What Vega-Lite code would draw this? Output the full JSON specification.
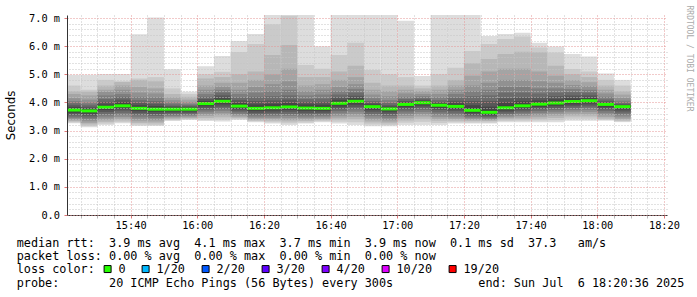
{
"$schema": "https://vega.github.io/schema/vega-lite/v6.json",
"width": 600, "height": 200,
"autosize": {"type": "none"},
"padding": {"left": 67, "top": 15, "right": 30, "bottom": 82},
"background": "#ffffff",
"config": {"view": {"stroke": null}, "axis": {"labelOverlap": false, "labelFlush": false}},
"resolve": {"axis": {"y": "independent"}},
"title": {
 "text": ["median rtt:\u00a0\u00a03.9 ms avg\u00a0\u00a04.1 ms max\u00a0\u00a03.7 ms min\u00a0\u00a03.9 ms now\u00a0\u00a00.1 ms sd\u00a0\u00a037.3\u00a0\u00a0\u00a0am/s",
          "packet loss: 0.00 % avg\u00a0\u00a00.00 % max\u00a0\u00a00.00 % min\u00a0\u00a00.00 % now"],
 "subtitle": "probe:\u00a0\u00a0\u00a0\u00a0\u00a0\u00a0\u00a020 ICMP Echo Pings (56 Bytes) every 300s\u00a0\u00a0\u00a0\u00a0\u00a0\u00a0\u00a0\u00a0\u00a0\u00a0\u00a0\u00a0end: Sun Jul\u00a0\u00a06 18:20:36 2025",
 "orient": "bottom", "anchor": "start", "frame": "group", "dx": -50.3, "offset": -38.3,
 "font": "DejaVu Sans Mono", "fontSize": 11.8, "fontWeight": "normal", "color": "#000000", "lineHeight": 13.7,
 "subtitleFont": "DejaVu Sans Mono", "subtitleFontSize": 11.8, "subtitleColor": "#000000", "subtitlePadding": 15
},
"data": {"values": [
{"t":"2025-07-06T15:20","e":"2025-07-06T15:25","m":3.73,"loss":"0","h1":4.98,"h2":4.60,"h3":4.40,"h4":4.30,"h5":4.15,"h6":4.05,"h7":3.97,"h8":3.90,"h9":3.83,"h10":3.77,"l1":3.26,"l2":3.29,"l3":3.33,"l4":3.36,"l5":3.40,"l6":3.45,"l7":3.50,"l8":3.57,"l9":3.63,"l10":3.69},
{"t":"2025-07-06T15:25","e":"2025-07-06T15:30","m":3.70,"loss":"0","h1":4.98,"h2":4.45,"h3":4.38,"h4":4.25,"h5":4.10,"h6":4.00,"h7":3.92,"h8":3.85,"h9":3.79,"h10":3.74,"l1":3.12,"l2":3.16,"l3":3.22,"l4":3.27,"l5":3.33,"l6":3.40,"l7":3.46,"l8":3.53,"l9":3.60,"l10":3.66},
{"t":"2025-07-06T15:30","e":"2025-07-06T15:35","m":3.83,"loss":"0","h1":5.01,"h2":4.80,"h3":4.60,"h4":4.45,"h5":4.38,"h6":4.25,"h7":4.12,"h8":4.02,"h9":3.93,"h10":3.87,"l1":3.20,"l2":3.25,"l3":3.31,"l4":3.37,"l5":3.43,"l6":3.50,"l7":3.58,"l8":3.66,"l9":3.73,"l10":3.79},
{"t":"2025-07-06T15:35","e":"2025-07-06T15:40","m":3.88,"loss":"0","h1":5.01,"h2":4.75,"h3":4.73,"h4":4.60,"h5":4.45,"h6":4.30,"h7":4.20,"h8":4.10,"h9":4.00,"h10":3.93,"l1":3.26,"l2":3.30,"l3":3.36,"l4":3.42,"l5":3.48,"l6":3.55,"l7":3.63,"l8":3.71,"l9":3.78,"l10":3.84},
{"t":"2025-07-06T15:40","e":"2025-07-06T15:45","m":3.79,"loss":"0","h1":6.42,"h2":4.85,"h3":4.80,"h4":4.55,"h5":4.35,"h6":4.20,"h7":4.08,"h8":3.98,"h9":3.90,"h10":3.84,"l1":3.16,"l2":3.21,"l3":3.27,"l4":3.33,"l5":3.40,"l6":3.47,"l7":3.55,"l8":3.62,"l9":3.69,"l10":3.75},
{"t":"2025-07-06T15:45","e":"2025-07-06T15:50","m":3.76,"loss":"0","h1":7.02,"h2":4.90,"h3":4.75,"h4":4.50,"h5":4.32,"h6":4.18,"h7":4.05,"h8":3.95,"h9":3.87,"h10":3.81,"l1":3.16,"l2":3.20,"l3":3.26,"l4":3.32,"l5":3.38,"l6":3.45,"l7":3.52,"l8":3.59,"l9":3.66,"l10":3.72},
{"t":"2025-07-06T15:50","e":"2025-07-06T15:55","m":3.76,"loss":"0","h1":5.18,"h2":4.50,"h3":4.30,"h4":4.18,"h5":4.08,"h6":4.00,"h7":3.93,"h8":3.87,"h9":3.83,"h10":3.80,"l1":3.34,"l2":3.37,"l3":3.40,"l4":3.44,"l5":3.48,"l6":3.52,"l7":3.57,"l8":3.62,"l9":3.67,"l10":3.72},
{"t":"2025-07-06T15:55","e":"2025-07-06T16:00","m":3.76,"loss":"0","h1":4.38,"h2":4.30,"h3":4.20,"h4":4.10,"h5":4.02,"h6":3.95,"h7":3.90,"h8":3.86,"h9":3.82,"h10":3.80,"l1":3.38,"l2":3.40,"l3":3.43,"l4":3.46,"l5":3.50,"l6":3.54,"l7":3.58,"l8":3.63,"l9":3.68,"l10":3.72},
{"t":"2025-07-06T16:00","e":"2025-07-06T16:05","m":3.96,"loss":"0","h1":5.29,"h2":5.00,"h3":4.85,"h4":4.60,"h5":4.45,"h6":4.30,"h7":4.20,"h8":4.12,"h9":4.05,"h10":4.00,"l1":3.34,"l2":3.39,"l3":3.45,"l4":3.52,"l5":3.58,"l6":3.65,"l7":3.72,"l8":3.79,"l9":3.86,"l10":3.92},
{"t":"2025-07-06T16:05","e":"2025-07-06T16:10","m":4.04,"loss":"0","h1":5.65,"h2":5.09,"h3":4.90,"h4":4.70,"h5":4.56,"h6":4.45,"h7":4.35,"h8":4.25,"h9":4.15,"h10":4.09,"l1":3.32,"l2":3.39,"l3":3.47,"l4":3.55,"l5":3.62,"l6":3.70,"l7":3.77,"l8":3.85,"l9":3.93,"l10":4.00},
{"t":"2025-07-06T16:10","e":"2025-07-06T16:15","m":3.87,"loss":"0","h1":6.18,"h2":5.79,"h3":5.00,"h4":4.70,"h5":4.45,"h6":4.30,"h7":4.18,"h8":4.08,"h9":3.98,"h10":3.92,"l1":3.38,"l2":3.41,"l3":3.45,"l4":3.49,"l5":3.54,"l6":3.59,"l7":3.65,"l8":3.71,"l9":3.77,"l10":3.83},
{"t":"2025-07-06T16:15","e":"2025-07-06T16:20","m":3.79,"loss":"0","h1":6.43,"h2":6.08,"h3":5.10,"h4":4.80,"h5":4.55,"h6":4.35,"h7":4.20,"h8":4.05,"h9":3.93,"h10":3.85,"l1":3.30,"l2":3.33,"l3":3.36,"l4":3.40,"l5":3.45,"l6":3.50,"l7":3.56,"l8":3.62,"l9":3.69,"l10":3.75},
{"t":"2025-07-06T16:20","e":"2025-07-06T16:25","m":3.81,"loss":"0","h1":7.30,"h2":6.78,"h3":5.69,"h4":5.00,"h5":4.65,"h6":4.40,"h7":4.22,"h8":4.07,"h9":3.95,"h10":3.87,"l1":3.25,"l2":3.30,"l3":3.35,"l4":3.40,"l5":3.45,"l6":3.51,"l7":3.57,"l8":3.64,"l9":3.71,"l10":3.77},
{"t":"2025-07-06T16:25","e":"2025-07-06T16:30","m":3.84,"loss":"0","h1":7.30,"h2":7.08,"h3":6.04,"h4":5.20,"h5":4.75,"h6":4.45,"h7":4.25,"h8":4.10,"h9":3.98,"h10":3.90,"l1":3.20,"l2":3.26,"l3":3.32,"l4":3.38,"l5":3.45,"l6":3.52,"l7":3.59,"l8":3.67,"l9":3.74,"l10":3.80},
{"t":"2025-07-06T16:30","e":"2025-07-06T16:35","m":3.80,"loss":"0","h1":7.30,"h2":5.33,"h3":4.90,"h4":4.60,"h5":4.40,"h6":4.25,"h7":4.12,"h8":4.02,"h9":3.93,"h10":3.86,"l1":3.25,"l2":3.29,"l3":3.34,"l4":3.39,"l5":3.44,"l6":3.50,"l7":3.56,"l8":3.63,"l9":3.70,"l10":3.76},
{"t":"2025-07-06T16:35","e":"2025-07-06T16:40","m":3.79,"loss":"0","h1":6.00,"h2":5.20,"h3":4.90,"h4":4.65,"h5":4.45,"h6":4.28,"h7":4.14,"h8":4.02,"h9":3.92,"h10":3.85,"l1":3.30,"l2":3.33,"l3":3.37,"l4":3.41,"l5":3.46,"l6":3.51,"l7":3.57,"l8":3.63,"l9":3.69,"l10":3.75},
{"t":"2025-07-06T16:40","e":"2025-07-06T16:45","m":3.97,"loss":"0","h1":7.30,"h2":5.69,"h3":5.10,"h4":4.80,"h5":4.55,"h6":4.40,"h7":4.28,"h8":4.18,"h9":4.09,"h10":4.02,"l1":3.25,"l2":3.31,"l3":3.39,"l4":3.46,"l5":3.53,"l6":3.61,"l7":3.69,"l8":3.77,"l9":3.85,"l10":3.92},
{"t":"2025-07-06T16:45","e":"2025-07-06T16:50","m":4.04,"loss":"0","h1":7.30,"h2":6.12,"h3":5.30,"h4":4.90,"h5":4.65,"h6":4.48,"h7":4.35,"h8":4.24,"h9":4.15,"h10":4.09,"l1":3.20,"l2":3.30,"l3":3.40,"l4":3.49,"l5":3.58,"l6":3.67,"l7":3.76,"l8":3.84,"l9":3.92,"l10":3.99},
{"t":"2025-07-06T16:50","e":"2025-07-06T16:55","m":3.85,"loss":"0","h1":7.30,"h2":5.15,"h3":4.70,"h4":4.45,"h5":4.28,"h6":4.15,"h7":4.05,"h8":3.98,"h9":3.93,"h10":3.89,"l1":3.15,"l2":3.22,"l3":3.29,"l4":3.36,"l5":3.43,"l6":3.51,"l7":3.59,"l8":3.67,"l9":3.74,"l10":3.80},
{"t":"2025-07-06T16:55","e":"2025-07-06T17:00","m":3.77,"loss":"0","h1":7.30,"h2":5.00,"h3":4.60,"h4":4.40,"h5":4.22,"h6":4.08,"h7":3.98,"h8":3.90,"h9":3.85,"h10":3.81,"l1":3.15,"l2":3.20,"l3":3.26,"l4":3.32,"l5":3.38,"l6":3.45,"l7":3.52,"l8":3.60,"l9":3.67,"l10":3.73},
{"t":"2025-07-06T17:00","e":"2025-07-06T17:05","m":3.93,"loss":"0","h1":6.90,"h2":4.90,"h3":4.60,"h4":4.45,"h5":4.32,"h6":4.20,"h7":4.12,"h8":4.05,"h9":4.00,"h10":3.97,"l1":3.20,"l2":3.28,"l3":3.36,"l4":3.44,"l5":3.52,"l6":3.60,"l7":3.68,"l8":3.76,"l9":3.83,"l10":3.89},
{"t":"2025-07-06T17:05","e":"2025-07-06T17:10","m":3.99,"loss":"0","h1":4.94,"h2":4.60,"h3":4.50,"h4":4.40,"h5":4.30,"h6":4.22,"h7":4.15,"h8":4.10,"h9":4.06,"h10":4.03,"l1":3.20,"l2":3.31,"l3":3.42,"l4":3.50,"l5":3.58,"l6":3.66,"l7":3.74,"l8":3.82,"l9":3.89,"l10":3.95},
{"t":"2025-07-06T17:10","e":"2025-07-06T17:15","m":3.90,"loss":"0","h1":7.30,"h2":5.00,"h3":4.60,"h4":4.45,"h5":4.30,"h6":4.18,"h7":4.08,"h8":4.01,"h9":3.97,"h10":3.94,"l1":3.20,"l2":3.27,"l3":3.35,"l4":3.42,"l5":3.49,"l6":3.57,"l7":3.65,"l8":3.73,"l9":3.80,"l10":3.86},
{"t":"2025-07-06T17:15","e":"2025-07-06T17:20","m":3.86,"loss":"0","h1":7.30,"h2":5.23,"h3":4.80,"h4":4.60,"h5":4.45,"h6":4.30,"h7":4.17,"h8":4.06,"h9":3.97,"h10":3.91,"l1":3.25,"l2":3.30,"l3":3.35,"l4":3.41,"l5":3.47,"l6":3.54,"l7":3.61,"l8":3.69,"l9":3.76,"l10":3.82},
{"t":"2025-07-06T17:20","e":"2025-07-06T17:25","m":3.72,"loss":"0","h1":7.30,"h2":5.83,"h3":5.39,"h4":4.95,"h5":4.60,"h6":4.40,"h7":4.22,"h8":4.05,"h9":3.90,"h10":3.79,"l1":3.25,"l2":3.29,"l3":3.34,"l4":3.38,"l5":3.42,"l6":3.46,"l7":3.51,"l8":3.56,"l9":3.62,"l10":3.68},
{"t":"2025-07-06T17:25","e":"2025-07-06T17:30","m":3.65,"loss":"0","h1":6.36,"h2":6.08,"h3":5.54,"h4":5.10,"h5":4.70,"h6":4.45,"h7":4.25,"h8":4.05,"h9":3.85,"h10":3.72,"l1":3.25,"l2":3.29,"l3":3.34,"l4":3.37,"l5":3.40,"l6":3.43,"l7":3.47,"l8":3.51,"l9":3.56,"l10":3.61},
{"t":"2025-07-06T17:30","e":"2025-07-06T17:35","m":3.81,"loss":"0","h1":6.43,"h2":6.25,"h3":5.72,"h4":5.20,"h5":4.80,"h6":4.55,"h7":4.35,"h8":4.15,"h9":4.00,"h10":3.88,"l1":3.30,"l2":3.34,"l3":3.39,"l4":3.44,"l5":3.49,"l6":3.54,"l7":3.59,"l8":3.65,"l9":3.71,"l10":3.77},
{"t":"2025-07-06T17:35","e":"2025-07-06T17:40","m":3.88,"loss":"0","h1":6.48,"h2":6.34,"h3":5.80,"h4":5.20,"h5":4.80,"h6":4.55,"h7":4.35,"h8":4.18,"h9":4.04,"h10":3.94,"l1":3.30,"l2":3.35,"l3":3.40,"l4":3.46,"l5":3.52,"l6":3.58,"l7":3.64,"l8":3.71,"l9":3.78,"l10":3.84},
{"t":"2025-07-06T17:40","e":"2025-07-06T17:45","m":3.94,"loss":"0","h1":6.12,"h2":5.95,"h3":5.78,"h4":5.10,"h5":4.75,"h6":4.50,"h7":4.32,"h8":4.18,"h9":4.07,"h10":3.99,"l1":3.30,"l2":3.36,"l3":3.42,"l4":3.49,"l5":3.56,"l6":3.63,"l7":3.70,"l8":3.77,"l9":3.84,"l10":3.90},
{"t":"2025-07-06T17:45","e":"2025-07-06T17:50","m":3.98,"loss":"0","h1":5.99,"h2":5.77,"h3":5.30,"h4":4.95,"h5":4.70,"h6":4.50,"h7":4.35,"h8":4.22,"h9":4.11,"h10":4.03,"l1":3.30,"l2":3.37,"l3":3.45,"l4":3.53,"l5":3.60,"l6":3.67,"l7":3.74,"l8":3.81,"l9":3.88,"l10":3.94},
{"t":"2025-07-06T17:50","e":"2025-07-06T17:55","m":4.03,"loss":"0","h1":5.72,"h2":5.19,"h3":5.00,"h4":4.80,"h5":4.62,"h6":4.48,"h7":4.36,"h8":4.25,"h9":4.15,"h10":4.08,"l1":3.35,"l2":3.42,"l3":3.50,"l4":3.57,"l5":3.65,"l6":3.72,"l7":3.79,"l8":3.86,"l9":3.93,"l10":3.99},
{"t":"2025-07-06T17:55","e":"2025-07-06T18:00","m":4.06,"loss":"0","h1":5.63,"h2":5.10,"h3":4.90,"h4":4.72,"h5":4.58,"h6":4.45,"h7":4.35,"h8":4.25,"h9":4.16,"h10":4.10,"l1":3.35,"l2":3.42,"l3":3.50,"l4":3.58,"l5":3.66,"l6":3.74,"l7":3.82,"l8":3.89,"l9":3.96,"l10":4.02},
{"t":"2025-07-06T18:00","e":"2025-07-06T18:05","m":3.93,"loss":"0","h1":5.03,"h2":4.80,"h3":4.60,"h4":4.45,"h5":4.32,"h6":4.20,"h7":4.11,"h8":4.04,"h9":3.99,"h10":3.96,"l1":3.35,"l2":3.38,"l3":3.42,"l4":3.48,"l5":3.55,"l6":3.62,"l7":3.69,"l8":3.76,"l9":3.83,"l10":3.89},
{"t":"2025-07-06T18:05","e":"2025-07-06T18:10","m":3.85,"loss":"0","h1":4.80,"h2":4.60,"h3":4.40,"h4":4.28,"h5":4.16,"h6":4.06,"h7":3.99,"h8":3.94,"h9":3.90,"h10":3.88,"l1":3.30,"l2":3.33,"l3":3.36,"l4":3.41,"l5":3.47,"l6":3.54,"l7":3.61,"l8":3.68,"l9":3.75,"l10":3.81}
]},
"encoding": {
 "x": {"field": "t", "type": "temporal",
  "scale": {"domain": [{"year":2025,"month":7,"date":6,"hours":15,"minutes":20,"seconds":55},{"year":2025,"month":7,"date":6,"hours":18,"minutes":20,"seconds":55}]},
  "axis": {
   "title": "RRDTOOL / TOBI OETIKER", "titleAngle": 90, "titleX": 621, "titleY": -210, "titleAlign": "left", "titleBaseline": "middle",
   "titleFont": "DejaVu Sans Mono", "titleFontSize": 8, "titleFontWeight": "normal", "titleColor": "#aaaaaa",
   "tickCount": 36, "format": "%H:%M",
   "labelExpr": "datum.value % 1200000 == 0 ? datum.label : ''",
   "labelOverlap": false, "labelFlush": false, "labelFont": "DejaVu Sans Mono", "labelFontSize": 10.3, "labelColor": "#000000", "labelPadding": 2.5,
   "ticks": true, "tickSize": 3,
   "tickColor": {"condition": {"test": "datum.value % 1200000 == 0", "value": "#e07878"}, "value": "#b8b8b8"},
   "grid": true,
   "gridColor": {"condition": {"test": "datum.value % 1200000 == 0", "value": "#e49595"}, "value": "#c4c4c4"},
   "gridDash": [1, 2], "gridWidth": 1,
   "domainColor": "#333333", "domainWidth": 1, "zindex": 1
  }
 }
},
"layer": [
 {"mark": {"type": "rect", "color": "#dddddd", "clip": true},
  "encoding": {"x2": {"field": "e"},
   "y": {"field": "l1", "type": "quantitative",
    "scale": {"domain": [0, 7.107], "nice": false, "zero": false},
    "axis": {
     "orient": "left",
     "title": "Seconds", "titleFont": "DejaVu Sans", "titleFontSize": 11.8, "titleFontWeight": "normal", "titleColor": "#000000",
     "titleX": -57, "titleY": 100, "titleAngle": 270, "titleAlign": "center", "titleBaseline": "middle",
     "values": [0, 1, 2, 3, 4, 5, 6, 7],
     "format": ".1f",
     "labelExpr": "datum.value == 0 ? datum.label : datum.label + ' m'",
     "labelFont": "DejaVu Sans Mono", "labelFontSize": 10.3, "labelColor": "#000000", "labelPadding": 4.5, "labelOverlap": false, "labelFlush": false,
     "ticks": true, "tickSize": 3, "tickColor": "#e07878",
     "grid": true, "gridColor": "#e49595", "gridDash": [1, 2], "gridWidth": 1,
     "domainColor": "#333333", "domainWidth": 1, "zindex": 2
    }},
   "y2": {"field": "h1"}}},
 {"mark": {"type": "rect", "color": "#cacaca", "clip": true},
  "encoding": {"x2": {"field": "e"},
   "y": {"field": "l2", "type": "quantitative",
    "axis": {"orient": "right", "title": null, "labels": false, "ticks": false, "domain": false,
     "values": [0.2,0.4,0.6,0.8,1.2,1.4,1.6,1.8,2.2,2.4,2.6,2.8,3.2,3.4,3.6,3.8,4.2,4.4,4.6,4.8,5.2,5.4,5.6,5.8,6.2,6.4,6.6,6.8],
     "grid": true, "gridColor": "#c4c4c4", "gridDash": [1, 2], "gridWidth": 1, "zindex": 1}},
   "y2": {"field": "h2"}}},
 {"mark": {"type": "rect", "color": "#b7b7b7", "clip": true}, "encoding": {"x2": {"field": "e"}, "y": {"field": "l3", "type": "quantitative", "axis": null}, "y2": {"field": "h3"}}},
 {"mark": {"type": "rect", "color": "#a4a4a4", "clip": true}, "encoding": {"x2": {"field": "e"}, "y": {"field": "l4", "type": "quantitative", "axis": null}, "y2": {"field": "h4"}}},
 {"mark": {"type": "rect", "color": "#919191", "clip": true}, "encoding": {"x2": {"field": "e"}, "y": {"field": "l5", "type": "quantitative", "axis": null}, "y2": {"field": "h5"}}},
 {"mark": {"type": "rect", "color": "#7e7e7e", "clip": true}, "encoding": {"x2": {"field": "e"}, "y": {"field": "l6", "type": "quantitative", "axis": null}, "y2": {"field": "h6"}}},
 {"mark": {"type": "rect", "color": "#6b6b6b", "clip": true}, "encoding": {"x2": {"field": "e"}, "y": {"field": "l7", "type": "quantitative", "axis": null}, "y2": {"field": "h7"}}},
 {"mark": {"type": "rect", "color": "#585858", "clip": true}, "encoding": {"x2": {"field": "e"}, "y": {"field": "l8", "type": "quantitative", "axis": null}, "y2": {"field": "h8"}}},
 {"mark": {"type": "rect", "color": "#454545", "clip": true}, "encoding": {"x2": {"field": "e"}, "y": {"field": "l9", "type": "quantitative", "axis": null}, "y2": {"field": "h9"}}},
 {"mark": {"type": "rect", "color": "#323232", "clip": true}, "encoding": {"x2": {"field": "e"}, "y": {"field": "l10", "type": "quantitative", "axis": null}, "y2": {"field": "h10"}}},
 {"mark": {"type": "tick", "orient": "horizontal", "size": 16.67, "thickness": 3, "xOffset": 8.33, "opacity": 1, "clip": true},
  "encoding": {
   "y": {"field": "m", "type": "quantitative", "axis": null},
   "color": {"field": "loss", "type": "nominal",
    "scale": {"domain": ["0", "1/20", "2/20", "3/20", "4/20", "10/20", "19/20"],
              "range": ["#26ff00", "#00b8ff", "#0059ff", "#5e00ff", "#7e00ff", "#dd00ff", "#ff0000"]},
    "legend": {"title": "loss color:", "orient": "none", "legendX": -50.3, "legendY": 248, "direction": "horizontal",
     "titleOrient": "left", "titlePadding": 6, "titleFont": "DejaVu Sans Mono", "titleFontSize": 11.8, "titleFontWeight": "normal", "titleColor": "#000000",
     "labelFont": "DejaVu Sans Mono", "labelFontSize": 11.8, "labelColor": "#000000", "labelOffset": 5, "columnPadding": 14,
     "symbolType": "square", "symbolSize": 49, "symbolStrokeColor": "#000000", "symbolStrokeWidth": 1, "symbolOpacity": 1}}
  }},
 {"data": {"values": [{}]},
  "mark": {"type": "point", "shape": "triangle-right", "filled": true, "color": "#8b1a1a", "size": 30, "opacity": 1, "clip": false},
  "encoding": {"x": {"datum": {"year":2025,"month":7,"date":6,"hours":18,"minutes":21,"seconds":49}, "type": "temporal"}, "y": {"datum": 0, "type": "quantitative", "axis": null}}},
 {"data": {"values": [{}]},
  "mark": {"type": "point", "shape": "triangle-up", "filled": true, "color": "#8b1a1a", "size": 30, "opacity": 1, "clip": false},
  "encoding": {"x": {"datum": {"year":2025,"month":7,"date":6,"hours":15,"minutes":20,"seconds":55}, "type": "temporal"}, "y": {"datum": 7.285, "type": "quantitative", "axis": null}}}
]
}
